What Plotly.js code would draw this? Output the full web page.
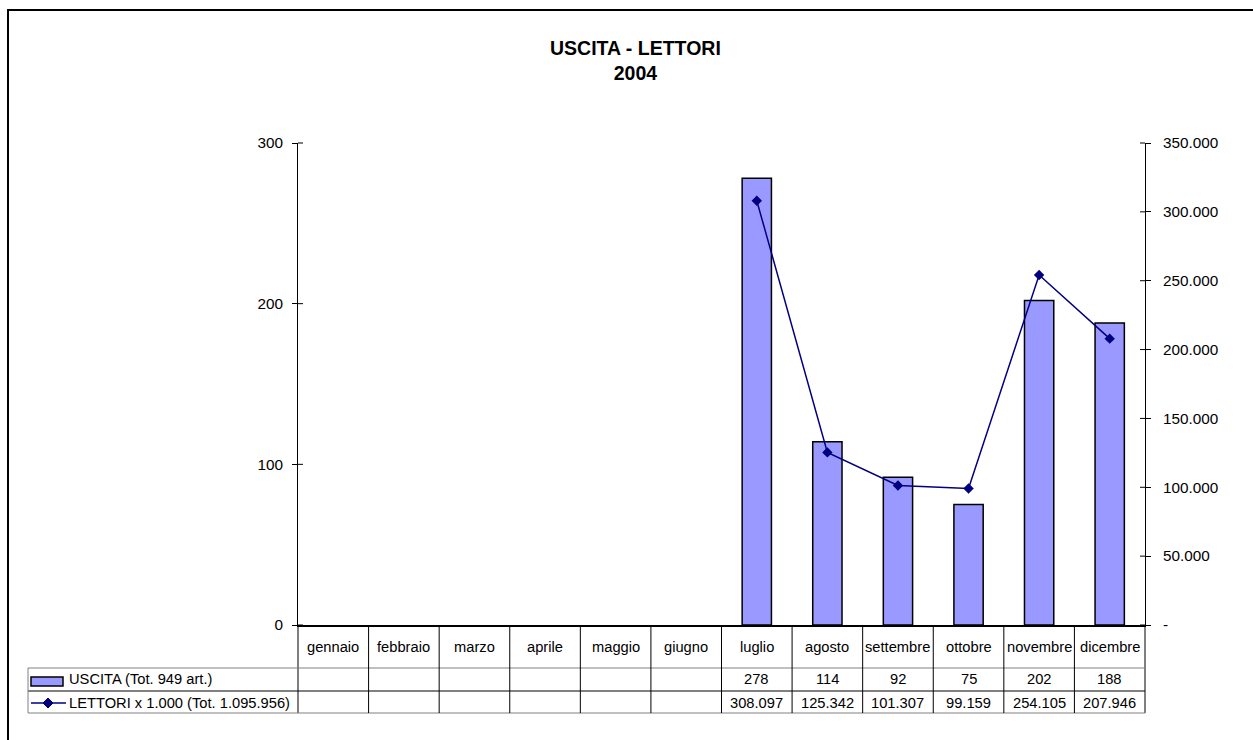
<!DOCTYPE html>
<html><head><meta charset="utf-8">
<script src="https://cdn.plot.ly/plotly-3.0.1.min.js"></script>
<style>html,body{margin:0;padding:0;background:#fff;overflow:hidden} #chart{width:1253px;height:740px;}</style>
</head><body><div id="chart"></div>
<script>
// ---- data ----
const months = ['gennaio','febbraio','marzo','aprile','maggio','giugno','luglio','agosto','settembre','ottobre','novembre','dicembre'];
const uscita = [null,null,null,null,null,null,278,114,92,75,202,188];
const lettori = [null,null,null,null,null,null,308097,125342,101307,99159,254105,207946];
const uscitaName = 'USCITA (Tot. 949 art.)';
const lettoriName = 'LETTORI x 1.000 (Tot. 1.095.956)';
const titleLines = ['USCITA - LETTORI','2004'];
const leftTicks = [0,100,200,300];
const rightTicks = [0,50000,100000,150000,200000,250000,300000,350000];
const leftMax = 300, rightMax = 350000;

function fmt(v){ return v==null ? '' : String(v).replace(/\B(?=(\d{3})+(?!\d))/g,'.'); }

// ---- geometry (pixels) ----
const FW = 1253, FH = 740;
const L = 298, R = 1145, T = 143, B = 625;
const px = x => (x - L) / (R - L);
const py = y => (B - y) / (B - T);
const FONT = 'Arial, "Liberation Sans", sans-serif';

const rowHeader = 646.5, row1 = 679, row2 = 702.5;
const lineH1 = 668, lineH2 = 691, lineH3 = 713, tableLeft = 28;

const shapes = [];
const annotations = [];

// outer frame
shapes.push({type:'rect', xref:'paper', yref:'paper', x0:px(8), x1:px(1270), y0:py(10), y1:py(760), line:{color:'#000', width:2}, fillcolor:'rgba(0,0,0,0)'});
// axis extensions through the table
shapes.push({type:'line', xref:'paper', yref:'paper', x0:0, x1:0, y0:py(B), y1:py(lineH3), line:{color:'#000', width:1}});
shapes.push({type:'line', xref:'paper', yref:'paper', x0:1, x1:1, y0:py(B), y1:py(lineH3), line:{color:'#000', width:1}});
// table horizontal lines
[[lineH1,'#808080'],[lineH2,'#000'],[lineH3,'#808080']].forEach(([y,c]) => {
  shapes.push({type:'line', xref:'paper', yref:'paper', x0:px(tableLeft), x1:1, y0:py(y), y1:py(y), line:{color:c, width:1}});
});
shapes.push({type:'line', xref:'paper', yref:'paper', x0:px(tableLeft), x1:px(tableLeft), y0:py(lineH1), y1:py(lineH3), line:{color:'#808080', width:1}});
// category separators
for (let i = 1; i < months.length; i++) {
  const x = i / months.length;
  shapes.push({type:'line', xref:'paper', yref:'paper', x0:x, x1:x, y0:py(B), y1:py(lineH3), line:{color:'#000', width:1}});
}
// inner halves of crossing ticks
leftTicks.forEach(v => shapes.push({type:'line', xref:'paper', yref:'paper', x0:0, x1:px(L+5), y0:v/leftMax, y1:v/leftMax, line:{color:'#000', width:1}}));
rightTicks.forEach(v => shapes.push({type:'line', xref:'paper', yref:'paper', x0:px(R-5), x1:1, y0:v/rightMax, y1:v/rightMax, line:{color:'#000', width:1}}));
// legend keys in table
shapes.push({type:'rect', xref:'paper', yref:'paper', x0:px(31), x1:px(63), y0:py(677), y1:py(686), fillcolor:'#9999FF', line:{color:'#000', width:1.5}});
shapes.push({type:'line', xref:'paper', yref:'paper', x0:px(31), x1:px(66), y0:py(703), y1:py(703), line:{color:'#000080', width:1.5}});
shapes.push({type:'path', xref:'paper', yref:'paper',
  path:`M ${px(43)} ${py(703)} L ${px(48)} ${py(698)} L ${px(53)} ${py(703)} L ${px(48)} ${py(708)} Z`,
  fillcolor:'#000080', line:{color:'#000080', width:1}});

// title
annotations.push({xref:'paper', yref:'paper', x:px(635), y:py(61), xanchor:'center', yanchor:'middle', showarrow:false,
  text: titleLines.join('<br>'), font:{family:FONT, size:19.5, color:'#000', weight:'bold'}});
// table text
const tf = {family:FONT, size:14.7, color:'#000'};
months.forEach((m,i) => {
  annotations.push({xref:'x', yref:'paper', x:i, y:py(rowHeader), text:m, showarrow:false, font:tf, xanchor:'center', yanchor:'middle'});
  if (uscita[i] != null) annotations.push({xref:'x', yref:'paper', x:i, y:py(row1), text:fmt(uscita[i]), showarrow:false, font:tf, xanchor:'center', yanchor:'middle'});
  if (lettori[i] != null) annotations.push({xref:'x', yref:'paper', x:i, y:py(row2), text:fmt(lettori[i]), showarrow:false, font:tf, xanchor:'center', yanchor:'middle'});
});
annotations.push({xref:'paper', yref:'paper', x:px(67), y:py(row1), text:uscitaName, showarrow:false, font:tf, xanchor:'left', yanchor:'middle'});
annotations.push({xref:'paper', yref:'paper', x:px(67), y:py(row2), text:lettoriName, showarrow:false, font:tf, xanchor:'left', yanchor:'middle'});

const traces = [
  {type:'bar', x:months, y:uscita, name:uscitaName, yaxis:'y',
   marker:{color:'#9999FF', line:{color:'#000', width:1.5}}, hoverinfo:'x+y'},
  {type:'scatter', mode:'lines+markers', x:months, y:lettori, name:lettoriName, yaxis:'y2',
   line:{color:'#000080', width:1.5}, marker:{symbol:'diamond', size:8, color:'#000080'}, connectgaps:false}
];

const layout = {
  width:FW, height:FH,
  margin:{l:L, r:FW-R, t:T, b:FH-B, pad:0},
  paper_bgcolor:'#fff', plot_bgcolor:'#fff',
  showlegend:false,
  bargap:0.585,
  font:{family:FONT, color:'#000'},
  xaxis:{type:'category', range:[-0.5, months.length-0.5], showticklabels:false, ticks:'',
         showline:true, linecolor:'#000', linewidth:2, showgrid:false, zeroline:false, fixedrange:true},
  yaxis:{range:[0,leftMax], tickvals:leftTicks, ticktext:leftTicks.map(String), ticks:'outside', ticklen:5, tickcolor:'#000', tickwidth:1,
         showline:true, linecolor:'#000', linewidth:1, showgrid:false, zeroline:false, fixedrange:true,
         tickfont:{family:FONT, size:15.3, color:'#000'}, ticklabelstandoff:6},
  yaxis2:{overlaying:'y', side:'right', range:[0,rightMax], tickvals:rightTicks,
          ticktext:rightTicks.map(v => v === 0 ? '-' : fmt(v)), ticks:'outside', ticklen:5, tickcolor:'#000', tickwidth:1,
          showline:true, linecolor:'#000', linewidth:1, showgrid:false, zeroline:false, fixedrange:true,
          tickfont:{family:FONT, size:15.3, color:'#000'}, ticklabelstandoff:9},
  shapes:shapes,
  annotations:annotations
};

Plotly.newPlot('chart', traces, layout, {displayModeBar:false, staticPlot:true});
</script>
</body></html>
